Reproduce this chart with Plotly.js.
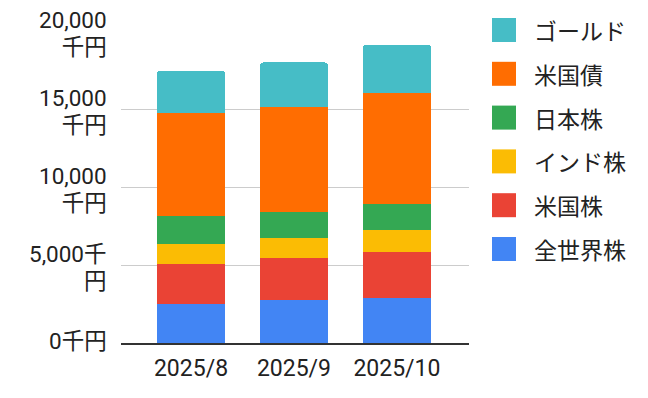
<!DOCTYPE html>
<html>
<head>
<meta charset="utf-8">
<script src="https://cdn.plot.ly/plotly-3.0.1.min.js"></script>
<style>html,body{margin:0;padding:0;background:#fff;}#chart{width:648px;height:398px;}</style>
</head>
<body>
<div id="chart"></div>
<script>
const categories = ['2025/8', '2025/9', '2025/10'];
const seriesNames = ['全世界株', '米国株', 'インド株', '日本株', '米国債', 'ゴールド'];
const seriesColors = ['#4285F4', '#EA4335', '#FBBC04', '#34A853', '#FF6D01', '#46BDC6'];
const zenSekai = [2480, 2740, 2870];
const beikokuKabu = [2560, 2690, 2940];
const indoKabu = [1290, 1280, 1410];
const nihonKabu = [1790, 1670, 1670];
const beikokuSai = [6670, 6790, 7180];
const gold = [2690, 2830, 3080];
const tickVals = [0, 5000, 10000, 15000, 20000];
const tickText = ['0千円', '5,000千<br>円', '10,000<br>千円', '15,000<br>千円', '20,000<br>千円'];

const seriesValues = [zenSekai, beikokuKabu, indoKabu, nihonKabu, beikokuSai, gold];
const FONT = 'Roboto, Noto Sans CJK JP, sans-serif';
const FS = 23;
const YFS = 22.5;

const traces = seriesValues.map((vals, i) => ({
  type: 'bar',
  x: categories,
  y: vals,
  name: seriesNames[i],
  marker: {color: seriesColors[i], line: {width: 0}},
  hoverinfo: 'none'
}));

const W = 648, H = 398;
const mL = 121, mR = 179, mT = 31, mB = 55;
const pw = W - mL - mR, ph = H - mT - mB;
const px2x = p => (p - mL) / pw;
const py2y = p => (H - mB - p) / ph;

const shapes = [];
const annotations = [];

// y tick labels, right-aligned, centred on their grid lines
tickVals.forEach((v, i) => {
  annotations.push({
    xref: 'paper', yref: 'y', x: px2x(109), y: v,
    xanchor: 'right', yanchor: 'middle', align: 'right', showarrow: false,
    yshift: tickText[i].indexOf('<br>') >= 0 ? 0 : 2,
    text: tickText[i],
    font: {family: FONT, size: YFS, color: '#222'}
  });
});

// legend: top series first
const order = seriesNames.map((_, i) => i).reverse();
order.forEach((si, k) => {
  const cy = 30 + k * 43.8;
  shapes.push({
    type: 'rect', xref: 'paper', yref: 'paper',
    x0: px2x(492), x1: px2x(516), y0: py2y(cy + 12), y1: py2y(cy - 12),
    fillcolor: seriesColors[si], line: {width: 0}, layer: 'above'
  });
  annotations.push({
    xref: 'paper', yref: 'paper', x: px2x(532), y: py2y(cy),
    xanchor: 'left', yanchor: 'middle', showarrow: false,
    text: seriesNames[si],
    font: {family: 'Noto Sans CJK JP, sans-serif', size: 23, color: '#222'}
  });
});

const layout = {
  width: W, height: H,
  margin: {l: mL, r: mR, t: mT, b: mB, pad: 0},
  paper_bgcolor: '#fff', plot_bgcolor: '#fff',
  barmode: 'stack',
  bargap: 0.34,
  barcornerradius: 3,
  showlegend: false,
  font: {family: FONT, size: FS, color: '#222'},
  xaxis: {
    type: 'category',
    range: [-0.68, 2.70],
    showgrid: false, zeroline: false,
    showline: true, linecolor: '#333', linewidth: 2,
    ticks: '', ticklabelstandoff: 3,
    tickfont: {family: FONT, size: FS, color: '#222'},
    fixedrange: true
  },
  yaxis: {
    range: [0, 20020],
    tickvals: tickVals, ticktext: tickVals.map(() => ''),
    showgrid: true, gridcolor: '#cccccc', gridwidth: 1,
    zeroline: false, showline: false,
    ticks: '',
    fixedrange: true
  },
  shapes: shapes,
  annotations: annotations
};

function tightenLines() {
  // two-line y labels: tighter line spacing around the grid line
  document.querySelectorAll('#chart .annotation-text').forEach(t => {
    const lines = t.querySelectorAll('tspan.line');
    if (lines.length === 2) {
      lines[0].setAttribute('dy', '3px');
      lines[1].setAttribute('dy', '29.5px');
    }
  });
}

Plotly.newPlot('chart', traces, layout, {displayModeBar: false, staticPlot: true}).then(tightenLines);
</script>
</body>
</html>
